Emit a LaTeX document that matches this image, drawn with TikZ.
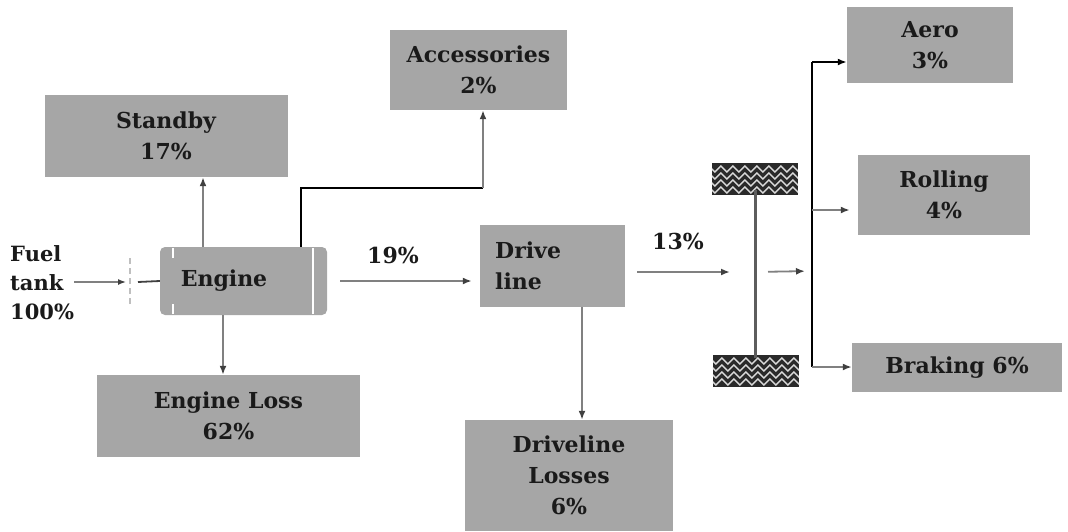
\documentclass[tikz,border=0pt]{standalone}
\usepackage{fontspec}
\setmainfont{DejaVu Serif}
\usetikzlibrary{arrows.meta,decorations.pathmorphing}
\definecolor{boxgray}{HTML}{A6A6A6}
\definecolor{linegray}{HTML}{808080}
\definecolor{headgray}{HTML}{404040}
\definecolor{tiredark}{HTML}{2A2A2A}
\definecolor{txt}{HTML}{1A1A1A}
\begin{document}
\begin{tikzpicture}[x=1pt,y=-1pt,
  lbl/.style={inner sep=0pt, font=\fontsize{22}{31}\selectfont\bfseries, text=txt, align=center},
  box/.style={fill=boxgray, inner sep=0pt, lbl},
  garrow/.style={draw=linegray, line width=1.8pt, -{Latex[length=9pt,width=7pt,color=headgray]}},
  karrow/.style={draw=black, line width=1.8pt, -{Latex[length=9pt,width=7pt]}},
  kline/.style={draw=black, line width=1.8pt},
  tirebox/.style={fill=tiredark, inner sep=0pt, minimum width=86pt, minimum height=32pt}
]
\useasboundingbox (0,0) rectangle (1068,531);

% boxes
\node[box, minimum width=243pt, minimum height=82pt] (standby) at (166,136) {Standby\\17\%};
\node[box, minimum width=177pt, minimum height=80pt] (acc) at (478.5,70) {Accessories\\2\%};
\node[box, minimum width=167pt, minimum height=68pt, rounded corners=5pt] (engine) at (243.5,281) {};
\node[lbl] (enginetxt) at (224,281) {Engine};
\node[box, minimum width=145pt, minimum height=82pt] (drive) at (552.5,266) {};
\node[lbl, align=left, anchor=west] (drivetxt) at (495,266) {Drive\\line};
\node[box, minimum width=263pt, minimum height=82pt] (eloss) at (228.5,416) {Engine Loss\\62\%};
\node[box, minimum width=208pt, minimum height=111pt] (dloss) at (569,475.5) {Driveline\\Losses\\6\%};
\node[box, minimum width=166pt, minimum height=76pt] (aero) at (930,45) {Aero\\3\%};
\node[box, minimum width=172pt, minimum height=80pt] (roll) at (944,195) {Rolling\\4\%};
\node[box, minimum width=210pt, minimum height=49pt] (brake) at (957,367.5) {Braking 6\%};

% engine white grooves
\draw[white, line width=1.5pt] (173,248) -- (173,258) (173,304) -- (173,314);
\draw[white, line width=1.5pt] (313,248) -- (313,314);

% fuel tank
\node[lbl, align=left, anchor=west, font=\fontsize{21}{29}\selectfont\bfseries] (fuel) at (10,283) {Fuel\\tank\\100\%};
\coordinate (ftend) at (74,282);
\coordinate (gap) at (130,282);
\draw[draw=linegray, line width=1.4pt, -{Latex[length=8pt,width=6pt,color=headgray]}] (ftend) -- ([xshift=-4pt]gap);
\draw[draw=linegray!50, line width=1.4pt, dash pattern=on 6pt off 4pt] ([yshift=-22pt]gap) -- ([yshift=26pt]gap);
\draw[draw=headgray, line width=1.8pt] ([xshift=8pt]gap) -- (engine.west);

% engine outputs
\draw[garrow] (engine.north -| 203,0) -- (standby.south -| 203,0);
\coordinate (accbend) at (483,188);
\draw[kline] (engine.north -| 301,0) |- (accbend);
\draw[garrow] (accbend) -- (acc.south -| accbend);
\draw[garrow] (engine.south -| 223,0) -- (eloss.north -| 223,0);
\draw[garrow, shorten <=13pt, shorten >=8pt] (engine.east) -- (engine.east -| drive.west);
\node[lbl] (p19) at (393,255) {19\%};

% drive line outputs
\draw[garrow] (drive.south -| 582,0) -- (dloss.north -| 582,0);
\coordinate (axle) at (754,272);
\draw[garrow, shorten <=12pt, shorten >=24pt] (drive.east |- axle) -- (axle);
\node[lbl] (p13) at (678,241) {13\%};

% wheel
\node[tirebox] (tiretop) at (755,179) {};
\node[tirebox] (tirebot) at (756,371) {};
\foreach \t in {tiretop,tirebot}{
  \begin{scope}
    \clip (\t.north west) rectangle (\t.south east);
    \foreach \dy in {-11,-4,3,10}{
      \draw[white!85!black, line width=1.4pt, decorate, decoration={zigzag, segment length=12pt, amplitude=3pt}]
        ([yshift=\dy pt, xshift=-6pt]\t.west) -- ([yshift=\dy pt, xshift=6pt]\t.east);
    }
  \end{scope}
}
\draw[draw=headgray!85, line width=3pt] ([yshift=5pt]tiretop.south) -- ([yshift=-3pt]tirebot.north -| tiretop.south);

% split to losses
\coordinate (split) at (812,271);
\coordinate (topc) at (812,62);
\coordinate (rollc) at (812,210);
\coordinate (brkc) at (812,367);
\draw[garrow, shorten <=14pt, shorten >=7pt] (axle) -- (split);
\draw[kline] (brkc) -- (topc);
\draw[karrow] (topc) -- (topc -| aero.west);
\draw[garrow] (rollc) -- ([xshift=-8pt]rollc -| roll.west);
\draw[garrow] (brkc) -- (brkc -| brake.west);
\end{tikzpicture}
\end{document}
